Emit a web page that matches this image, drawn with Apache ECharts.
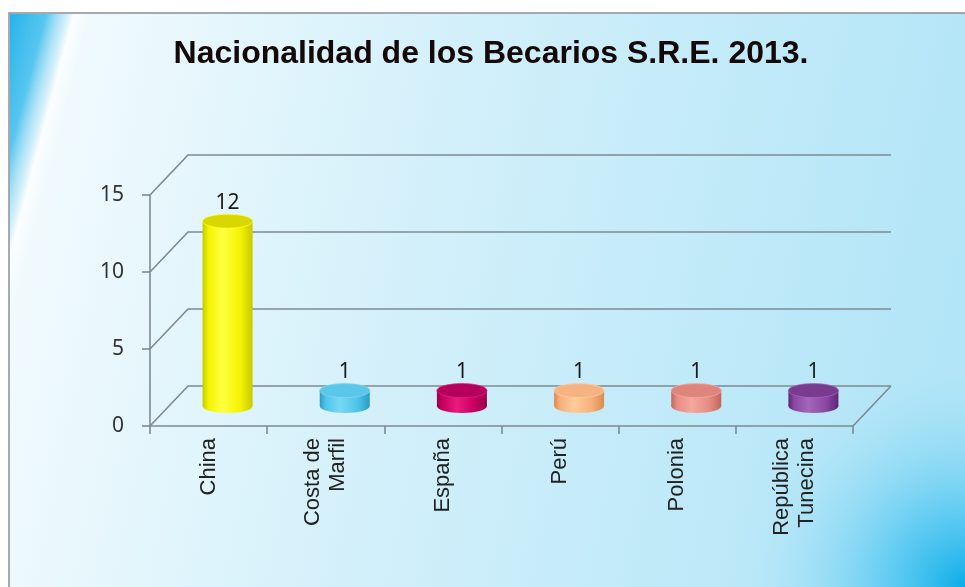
<!DOCTYPE html>
<html><head><meta charset="utf-8">
<script src="https://cdn.jsdelivr.net/npm/echarts@6/dist/echarts.min.js"></script>
<style>html,body{margin:0;padding:0;background:#fff}#c{width:965px;height:587px}</style>
</head><body><div id="c"></div>
<script>
// ---- data ----
const titleText = 'Nacionalidad de los Becarios S.R.E. 2013.';
const categories = ['China', 'Costa de\nMarfil', 'España', 'Perú', 'Polonia', 'República\nTunecina'];
const values = [12, 1, 1, 1, 1, 1];
const yTicks = [0, 5, 10, 15];
const yMin = 0, yMax = 15, yStep = 5;

// ---- styles ----
const barColors = [
  {dark: '#c9c900', light: '#ffff40', mid: '#f4f400', top: '#d8d800'},
  {dark: '#2a9cc6', light: '#78d8f5', mid: '#4fc4ea', top: '#5cc6e8'},
  {dark: '#98004a', light: '#ea1a80', mid: '#c8005f', top: '#b4005a'},
  {dark: '#d88c50', light: '#ffcc9a', mid: '#f8b07a', top: '#f5b383'},
  {dark: '#c0665e', light: '#f4a89e', mid: '#e68d84', top: '#de867e'},
  {dark: '#5e2676', light: '#a466bc', mid: '#8a48a2', top: '#7a3a90'}
];
const DX = 38, DY = -40;   // 3D depth offset
const BAR_W = 50, RY = 7;
const lineColor = '#7d8a93';
const numFont = '21px "Noto Sans", sans-serif';

const chart = echarts.init(document.getElementById('c'), null, {renderer: 'canvas'});

function renderGrid(params, api) {
  const v = api.value(1);
  const p = api.coord([0, v]);
  const cs = params.coordSys;
  const x0 = cs.x, x1 = cs.x + cs.width, y = p[1];
  const st = {stroke: lineColor, lineWidth: 1.6, fill: null};
  const children = [{type: 'polyline', shape: {points: [[x0, y], [x0 + DX, y + DY], [x1 + DX, y + DY]]}, style: st}];
  if (v === 0) children.push({type: 'line', shape: {x1: x1, y1: y, x2: x1 + DX, y2: y + DY}, style: st});
  return {type: 'group', children};
}

function renderBar(params, api) {
  const idx = api.value(0), v = api.value(1);
  const top = api.coord([idx, v]);
  const base = api.coord([idx, 0]);
  const cx = top[0] + DX / 2, ty = top[1] + DY / 2, by = base[1] + DY / 2;
  const r = BAR_W / 2;
  const c = barColors[idx % barColors.length];
  const grad = () => new echarts.graphic.LinearGradient(0, 0, 1, 0, [
    {offset: 0, color: c.dark}, {offset: 0.12, color: c.mid}, {offset: 0.4, color: c.light},
    {offset: 0.75, color: c.mid}, {offset: 1, color: c.dark}
  ]);
  return {type: 'group', children: [
    {type: 'ellipse', shape: {cx: cx, cy: by, rx: r, ry: RY}, style: {fill: grad()}},
    {type: 'rect', shape: {x: cx - r, y: ty, width: 2 * r, height: by - ty}, style: {fill: grad()}},
    {type: 'ellipse', shape: {cx: cx, cy: ty, rx: r, ry: RY}, style: {fill: c.top, stroke: c.light, lineWidth: 0.8}},
    {type: 'text', style: {text: String(v), x: cx, y: ty - RY - 1, align: 'center', verticalAlign: 'bottom', font: numFont, fill: '#1a1a1a'}}
  ]};
}

const option = {
  backgroundColor: '#ffffff',
  animation: false,
  graphic: [
    {type: 'rect', z: -10, shape: {x: 9, y: 13, width: 960, height: 580},
     style: {fill: new echarts.graphic.LinearGradient(0, 0, 1, 0.35, [
       {offset: 0, color: '#f6fcfe'}, {offset: 0.45, color: '#d3f0fa'}, {offset: 1, color: '#b2e5f7'}]),
       stroke: '#8a8f94', lineWidth: 1.5}},
    {type: 'circle', z: -9, shape: {cx: 965, cy: 587, r: 230},
     style: {fill: new echarts.graphic.RadialGradient(0.5, 0.5, 0.5, [
       {offset: 0, color: 'rgba(12,172,232,1)'}, {offset: 0.35, color: 'rgba(70,195,240,0.7)'}, {offset: 1, color: 'rgba(178,229,247,0)'}])}},
    {type: 'polygon', z: -9, shape: {points: [[10, 14], [115, 14], [10, 310]]},
     style: {fill: new echarts.graphic.LinearGradient(0, 30, 87, 53, [
       {offset: 0, color: 'rgba(28,176,234,1)'}, {offset: 0.45, color: 'rgba(70,192,238,0.9)'},
       {offset: 0.65, color: 'rgba(170,224,246,0.6)'}, {offset: 0.75, color: 'rgba(255,255,255,0.7)'},
       {offset: 0.92, color: 'rgba(255,255,255,0)'}], true)}}
  ],
  title: {
    text: titleText, left: 486, top: 33, textAlign: 'center',
    textStyle: {fontFamily: '"Liberation Sans", Arial, sans-serif', fontWeight: 'bold', fontSize: 32, color: '#140808'}
  },
  grid: {left: 150, right: 112, top: 195, bottom: 161, containLabel: false},
  xAxis: {
    type: 'category', data: categories, boundaryGap: true,
    axisLine: {lineStyle: {color: lineColor, width: 1.6}},
    axisTick: {show: true, interval: 0, length: 8, lineStyle: {color: lineColor, width: 1.6}},
    axisLabel: {interval: 0, rotate: 90, margin: 12, fontFamily: '"Liberation Sans", Arial, sans-serif', fontSize: 22, lineHeight: 25, color: '#222'}
  },
  yAxis: {
    type: 'value', min: yMin, max: yMax, interval: yStep,
    axisLine: {show: true, lineStyle: {color: lineColor, width: 1.6}},
    axisTick: {show: true, length: 8, lineStyle: {color: lineColor, width: 1.6}},
    splitLine: {show: false},
    axisLabel: {margin: 26, fontFamily: '"Noto Sans", sans-serif', fontSize: 21, color: '#333'}
  },
  series: [
    {type: 'custom', z: 1, renderItem: renderGrid, encode: {x: 0, y: 1}, data: yTicks.map(v => [0, v]), silent: true},
    {type: 'custom', z: 3, renderItem: renderBar, encode: {x: 0, y: 1}, data: values.map((v, i) => [i, v])}
  ]
};
chart.setOption(option);
</script>
</body></html>
